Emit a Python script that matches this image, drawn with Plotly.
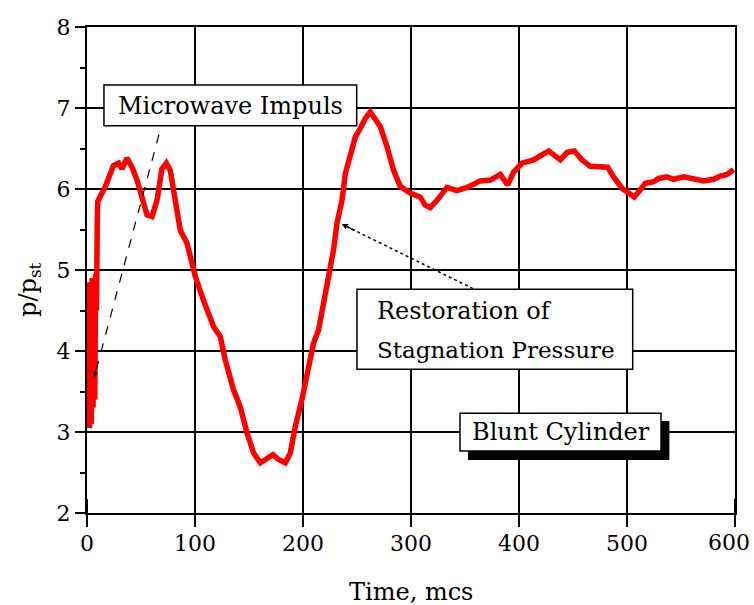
import plotly.graph_objects as go

# ---- data ----
time_mcs = [0, 0.8, 1.6, 2.4, 3.2, 4.0, 4.8, 5.6, 6.4, 7.2, 8.0, 8.8, 9.5, 10, 12, 17, 21.6,
            24.6, 29.3, 32.4, 37, 41.7,
            46.3, 50.9, 55.6, 60.2, 64.8, 69.4, 73.4, 77.1, 81.8, 86.4, 92.6, 100.3, 108,
            114.2, 117.2, 123.4, 128, 135.7, 141.9, 148.1, 154.3, 160.5, 166.7, 172.2, 177.4,
            183.6, 188.2, 192.9, 199, 203.7, 209.8, 214.4, 219.1, 223.7, 228.3, 231.5, 236.1,
            239.2, 243.8, 248.4, 253.1, 257.7, 262.3, 266.9, 271.6, 277.8, 283.9, 290.1,
            299.4, 308.6, 313.2, 317.9, 324.1, 333.3, 342.6, 351.9, 364.2, 373.4, 382.7,
            389.5, 395, 402.8, 413.6, 419.7, 427.4, 438.3, 444.4, 451.2, 458.3, 466, 475.3,
            482, 487.6, 495.3, 501.5, 506.7, 512.3, 516.9, 524.6, 529.3, 537, 543.2, 552.4,
            561.7, 571, 580.2, 586.4, 592.6, 598.7]
p_ratio = [4.85, 3.2, 4.7, 3.05, 4.6, 3.1, 4.9, 3.3, 4.8, 3.4, 4.95, 4.5, 5.6, 5.85, 5.9,
           6.03, 6.19, 6.29, 6.32,
           6.25, 6.38, 6.27, 6.11, 5.88, 5.68, 5.66, 5.86, 6.25, 6.32, 6.23, 5.9, 5.49, 5.33,
           4.92, 4.62, 4.38, 4.30, 4.18, 3.89, 3.52, 3.31, 2.99, 2.74, 2.62, 2.68, 2.72, 2.66,
           2.62, 2.74, 3.07, 3.40, 3.73, 4.10, 4.26, 4.59, 4.92, 5.25, 5.58, 5.86, 6.19, 6.44,
           6.64, 6.75, 6.87, 6.95, 6.87, 6.77, 6.52, 6.23, 6.03, 5.95, 5.90, 5.80, 5.77, 5.86,
           6.02, 5.98, 6.02, 6.10, 6.11, 6.18, 6.05, 6.21, 6.32, 6.36, 6.41, 6.47, 6.36, 6.45,
           6.47, 6.36, 6.28, 6.27, 6.27, 6.15, 6.01, 5.95, 5.90, 5.99, 6.07, 6.09, 6.13, 6.15,
           6.12, 6.15, 6.12, 6.10, 6.12, 6.16, 6.18, 6.24]

x_ticks = [0, 100, 200, 300, 400, 500, 600]
x_tick_text = ["0", "100", "200", "300", "400", "500", ""]
x_last_label = "600"
x_minor = [50, 150, 250, 350, 450, 550]
y_ticks = [2, 3, 4, 5, 6, 7, 8]
y_minor = [2.5, 3.5, 4.5, 5.5, 6.5, 7.5]
x_range = [0, 600]
y_range = [2, 8]

label_microwave = "Microwave Impuls"
label_restore = ["Restoration of", "Stagnation Pressure"]
label_body = "Blunt Cylinder"

FONT = "DejaVu Serif"
PX_PER_Y = 486 / (y_range[1] - y_range[0])

fig = go.Figure()
fig.add_trace(go.Scatter(x=time_mcs, y=p_ratio, mode="lines",
                         line=dict(color="#ff0000", width=5.5), showlegend=False,
                         hoverinfo="skip"))
# x-axis tick marks below the axis line (major and minor)
fig.add_trace(go.Scatter(x=x_ticks, y=[y_range[0]] * len(x_ticks), mode="markers",
                         marker=dict(symbol="line-ns", size=20,
                                     line=dict(color="black", width=2)),
                         cliponaxis=False, showlegend=False, hoverinfo="skip"))
fig.add_trace(go.Scatter(x=x_minor, y=[y_range[0] - 3 / PX_PER_Y] * len(x_minor),
                         mode="markers",
                         marker=dict(symbol="line-ns", size=6,
                                     line=dict(color="black", width=2)),
                         cliponaxis=False, showlegend=False, hoverinfo="skip"))

axis_common = dict(showline=True, linecolor="black", linewidth=2, mirror=True,
                   showgrid=True, gridcolor="black", gridwidth=2, zeroline=False,
                   ticks="outside", ticklen=10, tickwidth=2, tickcolor="black",
                   ticklabeloverflow="allow", automargin=False,
                   tickfont=dict(family=FONT, size=22, color="black"))

fig.update_layout(
    xaxis=dict(range=x_range, tickmode="array", tickvals=x_ticks, ticktext=x_tick_text,
               **axis_common),
    yaxis=dict(range=y_range, tickmode="array", tickvals=y_ticks, **axis_common,
               minor=dict(tickmode="array", tickvals=y_minor, ticks="outside", ticklen=5,
                          tickwidth=2, tickcolor="black", showgrid=False)),
)

shapes = []
# pointer lines
shapes.append(dict(type="line", xref="x", yref="y", x0=66.6, y0=6.67, x1=6.8, y1=3.68,
                   line=dict(color="black", width=1.2, dash="dash"), layer="above"))
shapes.append(dict(type="line", xref="x", yref="y", x0=357.4, y0=4.77, x1=240, y1=5.54,
                   line=dict(color="black", width=1.5, dash="dot"), layer="above"))
# boxes
shapes.append(dict(type="rect", xref="x", yref="y", x0=15.7, x1=249.7, y0=6.781, y1=7.284,
                   fillcolor="white", line=dict(color="black", width=1.5), layer="above"))
shapes.append(dict(type="rect", xref="x", yref="y", x0=250, x1=505.3, y0=3.774, y1=4.762,
                   fillcolor="white", line=dict(color="black", width=1.5), layer="above"))
shapes.append(dict(type="rect", xref="x", yref="y", x0=352.8, x1=539.2, y0=2.654, y1=3.136,
                   fillcolor="black", line=dict(color="black", width=0), layer="above"))
shapes.append(dict(type="rect", xref="x", yref="y", x0=345.4, x1=531.5, y0=2.765, y1=3.231,
                   fillcolor="white", line=dict(color="black", width=1.5), layer="above"))
fig.update_layout(shapes=shapes)

tf = dict(family=FONT, size=24, color="black")
ann = [
    dict(x=132.7, y=7.03, xref="x", yref="y", text=label_microwave, showarrow=False,
         font=tf, xanchor="center", yanchor="middle"),
    dict(x=266.7, y=4.50, xref="x", yref="y", text=label_restore[0], showarrow=False,
         font=tf, xanchor="left", yanchor="middle"),
    dict(x=266.7, y=4.01, xref="x", yref="y", text=label_restore[1], showarrow=False,
         font=dict(family=FONT, size=23, color="black"), xanchor="left", yanchor="middle"),
    dict(x=438.5, y=3.0, xref="x", yref="y", text=label_body, showarrow=False,
         font=tf, xanchor="center", yanchor="middle"),
    # last x tick label, kept inside the page
    dict(x=1.0262, y=-0.0617, xref="paper", yref="paper", text=x_last_label,
         showarrow=False, font=dict(family=FONT, size=22, color="black"),
         xanchor="right", yanchor="middle"),
    # arrow heads
    dict(x=235.8, y=5.568, ax=249, ay=5.48, xref="x", yref="y", axref="x", ayref="y",
         text="", showarrow=True, arrowhead=2, arrowsize=1, arrowwidth=1.2,
         arrowcolor="black"),
    dict(x=6.8, y=3.68, ax=8.9, ay=3.78, xref="x", yref="y", axref="x", ayref="y",
         text="", showarrow=True, arrowhead=2, arrowsize=0.8, arrowwidth=1.2,
         arrowcolor="black"),
    # axis titles
    dict(x=0.5, y=-0.162, xref="paper", yref="paper", text="Time, mcs", showarrow=False,
         font=tf, xanchor="center", yanchor="middle"),
    dict(x=-0.088, y=0.459, xref="paper", yref="paper", text="p/p<sub>st</sub>",
         showarrow=False, font=tf, textangle=-90, xanchor="center", yanchor="middle"),
]
fig.update_layout(annotations=ann)

fig.update_layout(width=754, height=605, margin=dict(l=87, r=19, t=27, b=92),
                  paper_bgcolor="white", plot_bgcolor="white",
                  font=dict(family=FONT, color="black"))

fig.write_html("out.html")
